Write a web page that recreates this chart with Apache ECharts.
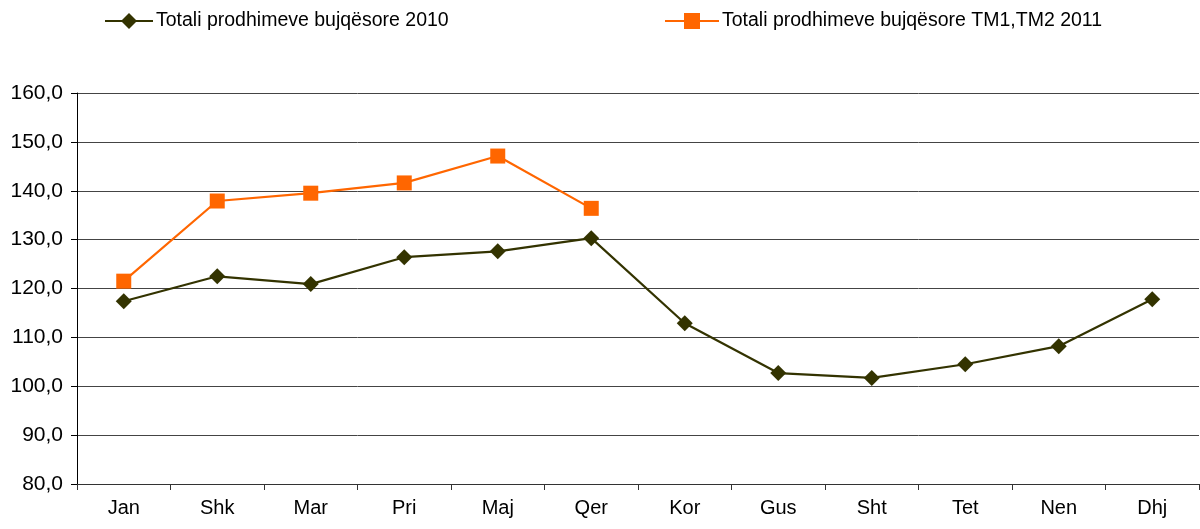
<!DOCTYPE html>
<html><head><meta charset="utf-8">
<script src="https://cdn.jsdelivr.net/npm/echarts@6/dist/echarts.min.js"></script>
<style>html,body{margin:0;padding:0;background:#fff}#c{width:1200px;height:529px}</style>
</head><body><div id="c"></div>
<script>
const categories = ['Jan','Shk','Mar','Pri','Maj','Qer','Kor','Gus','Sht','Tet','Nen','Dhj'];
const name2010 = 'Totali prodhimeve bujqësore 2010';
const name2011 = 'Totali prodhimeve bujqësore TM1,TM2 2011';
const values2010 = [117.4, 122.5, 120.9, 126.4, 127.6, 130.3, 112.9, 102.7, 101.7, 104.5, 108.2, 117.8];
const values2011 = [121.5, 137.9, 139.5, 141.6, 147.1, 136.4];

const chart = echarts.init(document.getElementById('c'));
const font = 'Liberation Sans, Arial, sans-serif';
chart.setOption({
  animation: false,
  textStyle: {fontFamily: font},
  legend: [
    {data:[name2010], left: 99, top: 6, itemWidth: 48, itemHeight: 20, itemGap: 4,
     textStyle:{fontSize:19.5, color:'#000', fontFamily: font, padding:[0,0,0,-2]}},
    {data:[name2011], left: 659, top: 6, itemWidth: 54, itemHeight: 20,
     textStyle:{fontSize:19.5, color:'#000', fontFamily: font, padding:[0,0,0,-2]}}
  ],
  grid: {left: 77, right: 1, top: 93, bottom: 45},
  xAxis: {
    type: 'category', data: categories, boundaryGap: true,
    axisLine: {show: true, lineStyle: {color: '#333', width: 1}},
    axisTick: {show: true, length: 6, inside: false, lineStyle: {color: '#333'}},
    axisLabel: {fontSize: 20, color: '#000', margin: 14, fontFamily: font}
  },
  yAxis: {
    type: 'value', min: 80, max: 160, interval: 10,
    axisLine: {show: true, lineStyle: {color: '#000', width: 1}},
    axisTick: {show: true, length: 6, lineStyle: {color: '#000'}},
    axisLabel: {fontSize: 21, color: '#000', margin: 14, fontFamily: font,
      formatter: v => v.toFixed(1).replace('.', ',')},
    splitLine: {show: true, lineStyle: {color: '#444', width: 1}}
  },
  series: [
    {name: name2010, type: 'line', data: values2010, symbol: 'diamond', symbolSize: 16,
     itemStyle: {color: '#333300'}, lineStyle: {color: '#333300', width: 2.2}},
    {name: name2011, type: 'line', data: values2011, symbol: 'rect', symbolSize: 15,
     itemStyle: {color: '#FF6600'}, lineStyle: {color: '#FF6600', width: 2.2}}
  ]
});
</script></body></html>
